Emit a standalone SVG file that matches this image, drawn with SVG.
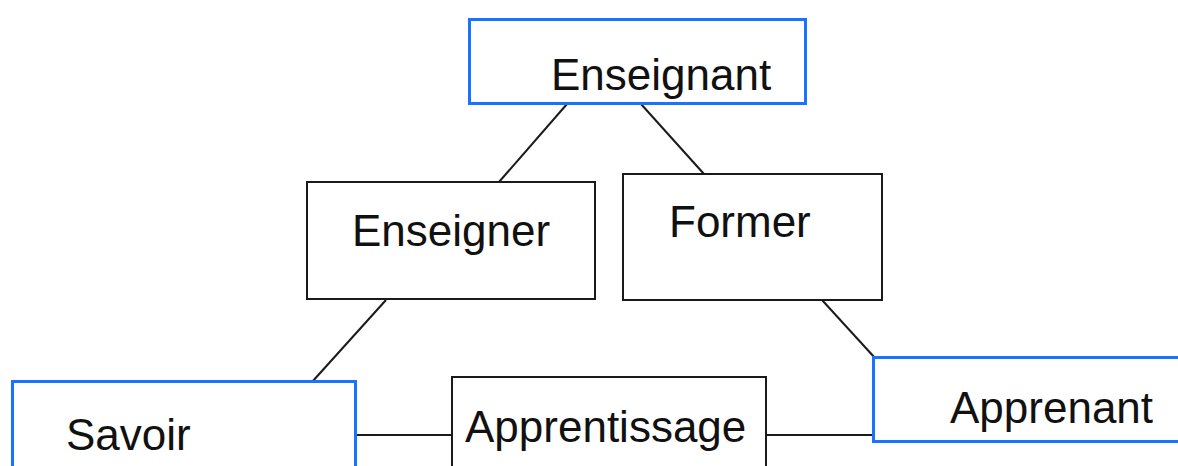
<svg xmlns="http://www.w3.org/2000/svg" width="1178" height="466" viewBox="0 0 1178 466">
  <style>
    .box { fill: #ffffff; stroke: #1a1a1a; stroke-width: 2; }
    .key { fill: #ffffff; stroke: #1a73ff; stroke-width: 3; }
    .lbl { font-family: "Liberation Sans", Arial, sans-serif; font-size: 44px; fill: #111111; }
    .link { stroke: #1a1a1a; stroke-width: 2; fill: none; }
  </style>
  <rect width="1178" height="466" fill="#ffffff"/>

  <g id="connectors">
    <line class="link" x1="567" y1="104" x2="499" y2="182"/>
    <line class="link" x1="641" y1="104" x2="704" y2="174"/>
    <line class="link" x1="386" y1="300" x2="312" y2="382"/>
    <line class="link" x1="822" y1="300" x2="875" y2="358"/>
    <line class="link" x1="356" y1="435" x2="452" y2="435"/>
    <line class="link" x1="766" y1="435" x2="873" y2="435"/>
  </g>

  <g id="enseignant">
    <rect class="key" x="469.5" y="19.5" width="336" height="84"/>
    <text class="lbl" x="551" y="90">Enseignant</text>
  </g>

  <g id="enseigner">
    <rect class="box" x="307" y="182" width="288" height="117"/>
    <text class="lbl" x="352" y="246">Enseigner</text>
  </g>

  <g id="former">
    <rect class="box" x="623" y="174" width="259" height="126"/>
    <text class="lbl" x="669" y="237">Former</text>
  </g>

  <g id="savoir">
    <rect class="key" x="12.5" y="381.5" width="343" height="100"/>
    <text class="lbl" x="66" y="450">Savoir</text>
  </g>

  <g id="apprentissage">
    <rect class="box" x="452" y="377" width="314" height="100"/>
    <text class="lbl" x="465" y="442">Apprentissage</text>
  </g>

  <g id="apprenant">
    <rect class="key" x="873.5" y="357.5" width="320" height="84"/>
    <text class="lbl" x="950" y="423">Apprenant</text>
  </g>
</svg>
